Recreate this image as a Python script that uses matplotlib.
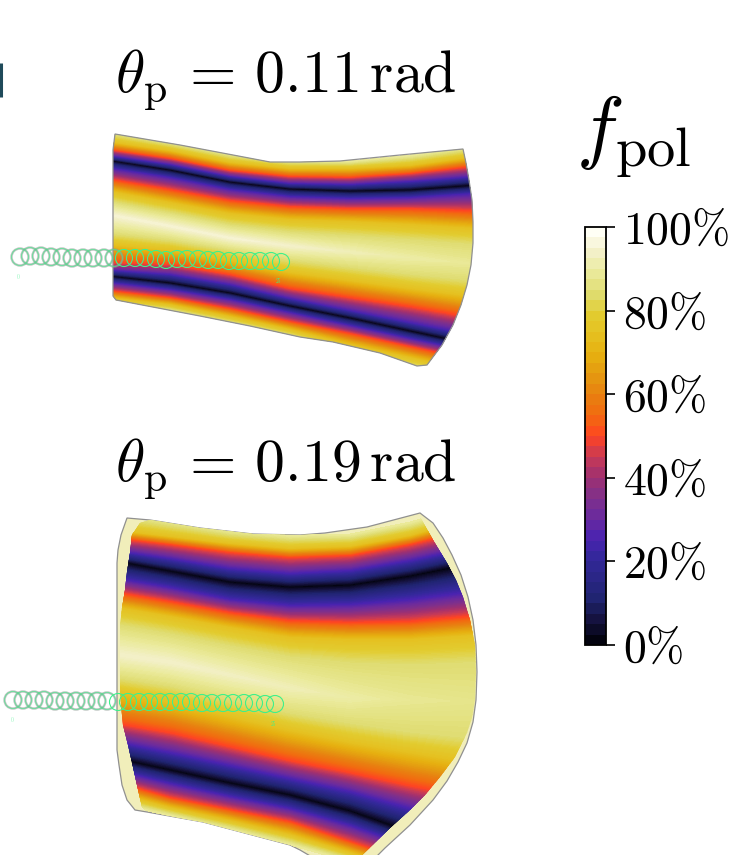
import matplotlib
matplotlib.use("Agg")
import matplotlib.pyplot as plt
import numpy as np
from matplotlib.colors import LinearSegmentedColormap, Normalize
from matplotlib.patches import Polygon

plt.rcParams['mathtext.fontset'] = 'cm'
plt.rcParams['font.family'] = 'cmr10'
plt.rcParams['axes.formatter.use_mathtext'] = True

# colour scale
cbar_stops = [0, 5, 10, 15, 20, 25, 30, 35, 40, 45, 50, 55, 60, 65, 70, 75, 80, 85, 90, 95, 100]
cbar_colors = ["#03030f", "#15123f", "#1f2470", "#2a2685", "#33289a", "#4a23b0", "#6a2a9e", "#80308a",
               "#a03070", "#c83a55", "#ff4422", "#f26a10", "#e88010", "#e49a10", "#e6b010", "#e5c020",
               "#e2cc30", "#dfdc70", "#eaea9a", "#f3f0c8", "#fffff5"]
cbar_ticks = [0, 20, 40, 60, 80, 100]
cbar_labels = [r"$0\%$", r"$20\%$", r"$40\%$", r"$60\%$", r"$80\%$", r"$100\%$"]

# f_pol along each row of the band, from top to bottom
row_levels = [90, 75, 50, 25, 0, 25, 50, 75, 85, 100, 85, 75, 50, 25, 0, 25, 50, 75, 90]
center_row = 9
stations = [100, 170, 230, 290, 350, 410, 490]

# y pixel of each row at each station
rows_a = [[128, 141, 153, 160, 161, 155, 143],
          [140, 150, 162, 168, 168, 165, 154],
          [148, 158, 170, 176, 177, 173, 164],
          [154, 164, 176, 183, 184, 181, 175],
          [159, 170, 182, 189, 191, 190, 184],
          [167, 178, 190, 197, 199, 198, 193],
          [178, 190, 201, 207, 209, 209, 212],
          [190, 203, 214, 220, 222, 225, 230],
          [200, 213, 225, 232, 236, 240, 246],
          [213, 226, 238, 246, 252, 258, 265],
          [232, 240, 250, 260, 267, 274, 282],
          [243, 250, 260, 272, 280, 288, 298],
          [262, 264, 274, 288, 297, 306, 320],
          [269, 274, 284, 298, 310, 322, 338],
          [275, 283, 293, 306, 318, 331, 348],
          [282, 290, 300, 313, 326, 339, 356],
          [290, 298, 309, 322, 334, 347, 364],
          [297, 305, 317, 330, 345, 358, 376],
          [304, 312, 325, 338, 355, 370, 390]]
center_a = [96, 96, 96, 95, 93, 91, 89]

rows_b = [[508, 520, 530, 535, 534, 522, 500],
          [528, 536, 543, 548, 546, 535, 512],
          [536, 544, 552, 557, 555, 544, 525],
          [548, 558, 568, 573, 570, 560, 543],
          [558, 571, 582, 587, 585, 576, 560],
          [576, 588, 600, 606, 605, 600, 590],
          [590, 602, 613, 621, 623, 622, 615],
          [605, 617, 628, 638, 640, 640, 635],
          [622, 634, 646, 657, 663, 665, 662],
          [652, 662, 675, 688, 698, 700, 702],
          [675, 686, 700, 713, 723, 732, 740],
          [690, 702, 716, 730, 742, 752, 765],
          [720, 732, 746, 760, 772, 785, 800],
          [738, 752, 765, 778, 791, 808, 830],
          [755, 770, 783, 795, 811, 832, 860],
          [767, 784, 797, 809, 826, 847, 873],
          [778, 798, 810, 822, 842, 862, 885],
          [790, 808, 821, 835, 853, 872, 895],
          [800, 816, 830, 845, 862, 880, 900]]
center_b = [95, 95, 94, 93, 91, 89, 88]

# outlines
outline_a_x = [115, 180, 233, 270, 300, 340, 400, 463, 466, 469, 472, 473, 473, 471, 467, 461, 453, 442, 427, 417, 380, 333, 300, 250, 200, 116, 113, 113]
outline_a_y = [134, 145, 155, 162, 162, 161, 155, 149, 163, 180, 200, 222, 243, 265, 285, 305, 325, 345, 365, 366, 353, 342, 337, 326, 316, 300, 296, 150]
outer_b_x = [127, 150, 200, 253, 300, 325, 367, 420, 433, 443, 452, 461, 468, 473, 476, 477, 476, 473, 467, 458, 447, 433, 410, 385, 373, 317, 300, 290, 203, 147, 135, 127, 122, 119, 117, 117, 118, 121]
outer_b_y = [518, 520, 528, 534, 535, 533, 527, 513, 523, 538, 555, 575, 597, 620, 645, 672, 700, 722, 743, 762, 781, 800, 825, 848, 860, 860, 850, 845, 822, 812, 810, 800, 785, 765, 750, 563, 550, 535]
inner_b_x = [140, 150, 200, 253, 300, 325, 367, 420, 433, 447, 456, 463, 470, 475, 476, 475, 472, 467, 455, 440, 425, 410, 390, 357, 317, 300, 290, 203, 147, 142, 137, 133, 128, 123, 121, 120, 120, 120, 122, 125, 127, 130, 132]
inner_b_y = [523, 520, 528, 534, 535, 533, 527, 517, 540, 563, 580, 597, 620, 645, 672, 700, 718, 733, 757, 777, 795, 810, 828, 860, 860, 850, 845, 822, 812, 807, 785, 767, 745, 725, 705, 687, 655, 627, 608, 590, 572, 553, 535]

# beam spots
spots_a_x = [20, 30, 41, 51, 62, 72, 83, 93, 104, 114, 124, 135, 145, 156, 166, 177, 187, 198, 208, 218, 229, 239, 250, 260, 271, 281]
spots_a_y = [257, 256, 256, 257, 257, 258, 258, 258, 258, 258, 258, 258, 258, 259, 260, 259, 259, 259, 260, 260, 261, 261, 261, 261, 261, 262]
spots_b_x = [13, 23, 34, 44, 55, 65, 76, 86, 97, 107, 118, 128, 139, 149, 160, 170, 181, 191, 202, 212, 223, 233, 244, 254, 265, 275]
spots_b_y = [700, 700, 700, 700, 701, 701, 701, 701, 701, 701, 702, 702, 702, 702, 702, 702, 702, 702, 703, 703, 703, 703, 703, 703, 704, 704]

fig = plt.figure(figsize=(7.31, 8.55), dpi=100)
ax = fig.add_axes([0, 0, 1, 1])
ax.set_xlim(0, 731)
ax.set_ylim(855, 0)
ax.axis('off')

cmap = LinearSegmentedColormap.from_list("fpol", [(s / 100, c) for s, c in zip(cbar_stops, cbar_colors)])
levels = np.linspace(0, 100, 201)


def draw_band(rows, center, clip_x, clip_y):
    y = np.array(rows, dtype=float)
    x = np.tile(stations, (len(rows), 1))
    z = np.tile(np.array(row_levels, dtype=float)[:, None], (1, len(stations)))
    z[center_row] = center
    clip = Polygon(np.column_stack([clip_x, clip_y]), closed=True, transform=ax.transData,
                   facecolor='none', edgecolor='none')
    ax.add_patch(clip)
    cs = ax.contourf(x, y, z, levels=levels, cmap=cmap, vmin=0, vmax=100, zorder=2)
    cs.set_clip_path(clip)
    return cs


# lower panel has a pale rim around the data
ax.add_patch(Polygon(np.column_stack([outer_b_x, outer_b_y]), closed=True, facecolor="#f1eeba",
                     edgecolor="#909090", lw=0.9, zorder=1))
draw_band(rows_a, center_a, outline_a_x, outline_a_y)
draw_band(rows_b, center_b, inner_b_x, inner_b_y)
ax.add_patch(Polygon(np.column_stack([outline_a_x, outline_a_y]), closed=True, facecolor='none',
                     edgecolor="#909090", lw=0.9, zorder=3))

# spots
for sx, sy, edge in [(spots_a_x, spots_a_y, 115), (spots_b_x, spots_b_y, 117)]:
    sx = np.array(sx)
    sy = np.array(sy)
    left = sx < edge
    ax.scatter(sx[left], sy[left], s=150, facecolors='none', edgecolors="#8f9a94", linewidths=1.7, alpha=0.6, zorder=4)
    ax.scatter(sx[left], sy[left], s=150, facecolors='none', edgecolors="#3ef08a", linewidths=0.6, alpha=0.7, zorder=5)
    ax.scatter(sx[~left], sy[~left], s=150, facecolors='none', edgecolors="#3ef08a", linewidths=0.8, zorder=5)
ax.text(18, 277, "0", color="#3ef08a", fontsize=4, ha='center', va='center', alpha=0.6)
ax.text(278, 281, "25", color="#3ef08a", fontsize=4, ha='center', va='center')
ax.text(12, 720, "0", color="#3ef08a", fontsize=4, ha='center', va='center', alpha=0.6)
ax.text(273, 724, "25", color="#3ef08a", fontsize=4, ha='center', va='center')

# cut off letter at the left edge
ax.plot([0.8, 0.8], [63, 97], color="#1f4a5a", lw=2.2, solid_capstyle='butt')

ax.text(286, 92, r"$\theta_{\mathrm{p}}\,=\,0.11\,\mathrm{rad}$", fontsize=43, ha='center', va='baseline', color='black')
ax.text(286, 481, r"$\theta_{\mathrm{p}}\,=\,0.19\,\mathrm{rad}$", fontsize=43, ha='center', va='baseline', color='black')
ax.text(576, 153, r"$f_{\mathrm{pol}}$", fontsize=58, ha='left', va='baseline', color='black')

cax = fig.add_axes([585 / 731, (855 - 645) / 855, 21 / 731, 418 / 855])
sm = plt.cm.ScalarMappable(norm=Normalize(0, 100), cmap=cmap.resampled(40))
cb = fig.colorbar(sm, cax=cax, ticks=cbar_ticks)
cb.ax.set_yticklabels(cbar_labels)
cb.ax.tick_params(labelsize=33, length=6.5, width=1.2, pad=6, colors='black')
cb.outline.set_linewidth(1.3)

fig.savefig("out.png", dpi=100)
